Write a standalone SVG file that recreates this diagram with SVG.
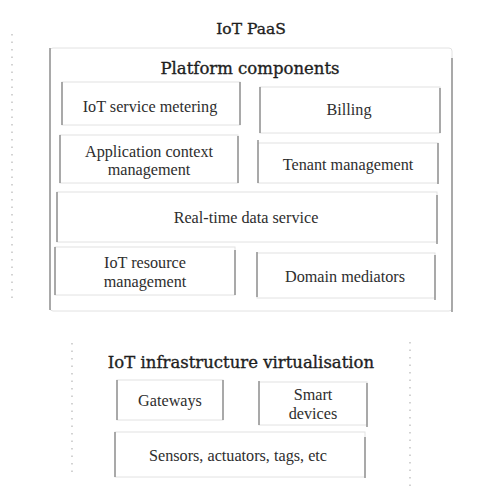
<svg xmlns="http://www.w3.org/2000/svg" width="478" height="495" viewBox="0 0 478 495">
  <style>
    .bg { fill: #ffffff; }
    .frame { fill: none; stroke: #e2e2e2; stroke-width: 1; }
    .side { stroke: #8a8a8a; stroke-width: 1.4; fill: none; }
    .dots { stroke: #c8c8c8; stroke-width: 1.6; stroke-dasharray: 1.5 6; fill: none; }
    .head { font-family: "DejaVu Serif", "Liberation Serif", serif; font-size: 15.5px; fill: #1e1e1e; stroke: #1e1e1e; stroke-width: 0.35; text-anchor: middle; }
    .label { font-family: "Liberation Serif", "DejaVu Serif", serif; font-size: 16.2px; fill: #2e2e2e; text-anchor: middle; }
  </style>

  <rect class="bg" x="0" y="0" width="478" height="495"/>

  <!-- faint dotted margins -->
  <g id="margins">
    <line class="dots" x1="12" y1="34" x2="12" y2="300"/>
    <line class="dots" x1="72" y1="343" x2="72" y2="476"/>
    <line class="dots" x1="410" y1="342" x2="410" y2="486"/>
  </g>

  <!-- IoT PaaS -->
  <g id="paas">
    <text class="head" x="251" y="34">IoT PaaS</text>
    <rect class="frame" x="50" y="48" width="402" height="263" rx="3"/>
    <line class="side" x1="50" y1="48" x2="50" y2="310"/>
    <line class="side" x1="452" y1="58" x2="452" y2="312"/>
    <text class="head" x="250" y="74" style="font-size:16.5px">Platform components</text>
  </g>

  <g id="metering">
    <rect class="frame" x="62" y="82" width="178" height="43"/>
    <line class="side" x1="62" y1="82" x2="62" y2="125"/>
    <line class="side" x1="240" y1="82" x2="240" y2="125"/>
    <text class="label" x="150" y="112">IoT service metering</text>
  </g>

  <g id="billing">
    <rect class="frame" x="260" y="87" width="180" height="46"/>
    <line class="side" x1="260" y1="87" x2="260" y2="133"/>
    <line class="side" x1="440" y1="88" x2="440" y2="133"/>
    <text class="label" x="349" y="115">Billing</text>
  </g>

  <g id="app-context">
    <rect class="frame" x="60" y="135" width="178" height="48"/>
    <line class="side" x1="60" y1="135" x2="60" y2="183"/>
    <line class="side" x1="238" y1="136" x2="238" y2="183"/>
    <text class="label" x="149" y="157">Application context</text>
    <text class="label" x="149" y="175">management</text>
  </g>

  <g id="tenant">
    <rect class="frame" x="258" y="143" width="180" height="40"/>
    <line class="side" x1="258" y1="140" x2="258" y2="183"/>
    <line class="side" x1="438" y1="143" x2="438" y2="184"/>
    <text class="label" x="348" y="170">Tenant management</text>
  </g>

  <g id="realtime">
    <rect class="frame" x="57" y="192" width="380" height="50"/>
    <line class="side" x1="57" y1="192" x2="57" y2="242"/>
    <line class="side" x1="437" y1="195" x2="437" y2="244"/>
    <text class="label" x="246" y="223">Real-time data service</text>
  </g>

  <g id="resource">
    <rect class="frame" x="55" y="247" width="180" height="48"/>
    <line class="side" x1="55" y1="247" x2="55" y2="295"/>
    <line class="side" x1="235" y1="250" x2="235" y2="295"/>
    <text class="label" x="145" y="268">IoT resource</text>
    <text class="label" x="145" y="287">management</text>
  </g>

  <g id="mediators">
    <rect class="frame" x="257" y="253" width="178" height="45"/>
    <line class="side" x1="257" y1="252" x2="257" y2="297"/>
    <line class="side" x1="435" y1="255" x2="435" y2="300"/>
    <text class="label" x="345" y="282">Domain mediators</text>
  </g>

  <!-- IoT infrastructure virtualisation -->
  <g id="infra">
    <text class="head" x="241" y="368" style="font-size:16.5px">IoT infrastructure virtualisation</text>
  </g>

  <g id="gateways">
    <rect class="frame" x="117" y="380" width="106" height="40"/>
    <line class="side" x1="117" y1="380" x2="117" y2="420"/>
    <line class="side" x1="223" y1="380" x2="223" y2="420"/>
    <text class="label" x="170" y="406">Gateways</text>
  </g>

  <g id="smart-devices">
    <rect class="frame" x="259" y="382" width="108" height="43"/>
    <line class="side" x1="259" y1="381" x2="259" y2="425"/>
    <line class="side" x1="367" y1="383" x2="367" y2="427"/>
    <text class="label" x="313" y="400">Smart</text>
    <text class="label" x="313" y="419">devices</text>
  </g>

  <g id="sensors">
    <rect class="frame" x="115" y="432" width="250" height="45"/>
    <line class="side" x1="115" y1="432" x2="115" y2="477"/>
    <line class="side" x1="365" y1="437" x2="365" y2="478"/>
    <text class="label" x="238" y="461">Sensors, actuators, tags, etc</text>
  </g>

  <!-- no connectors in this diagram -->
  <g id="connectors"/>
</svg>
